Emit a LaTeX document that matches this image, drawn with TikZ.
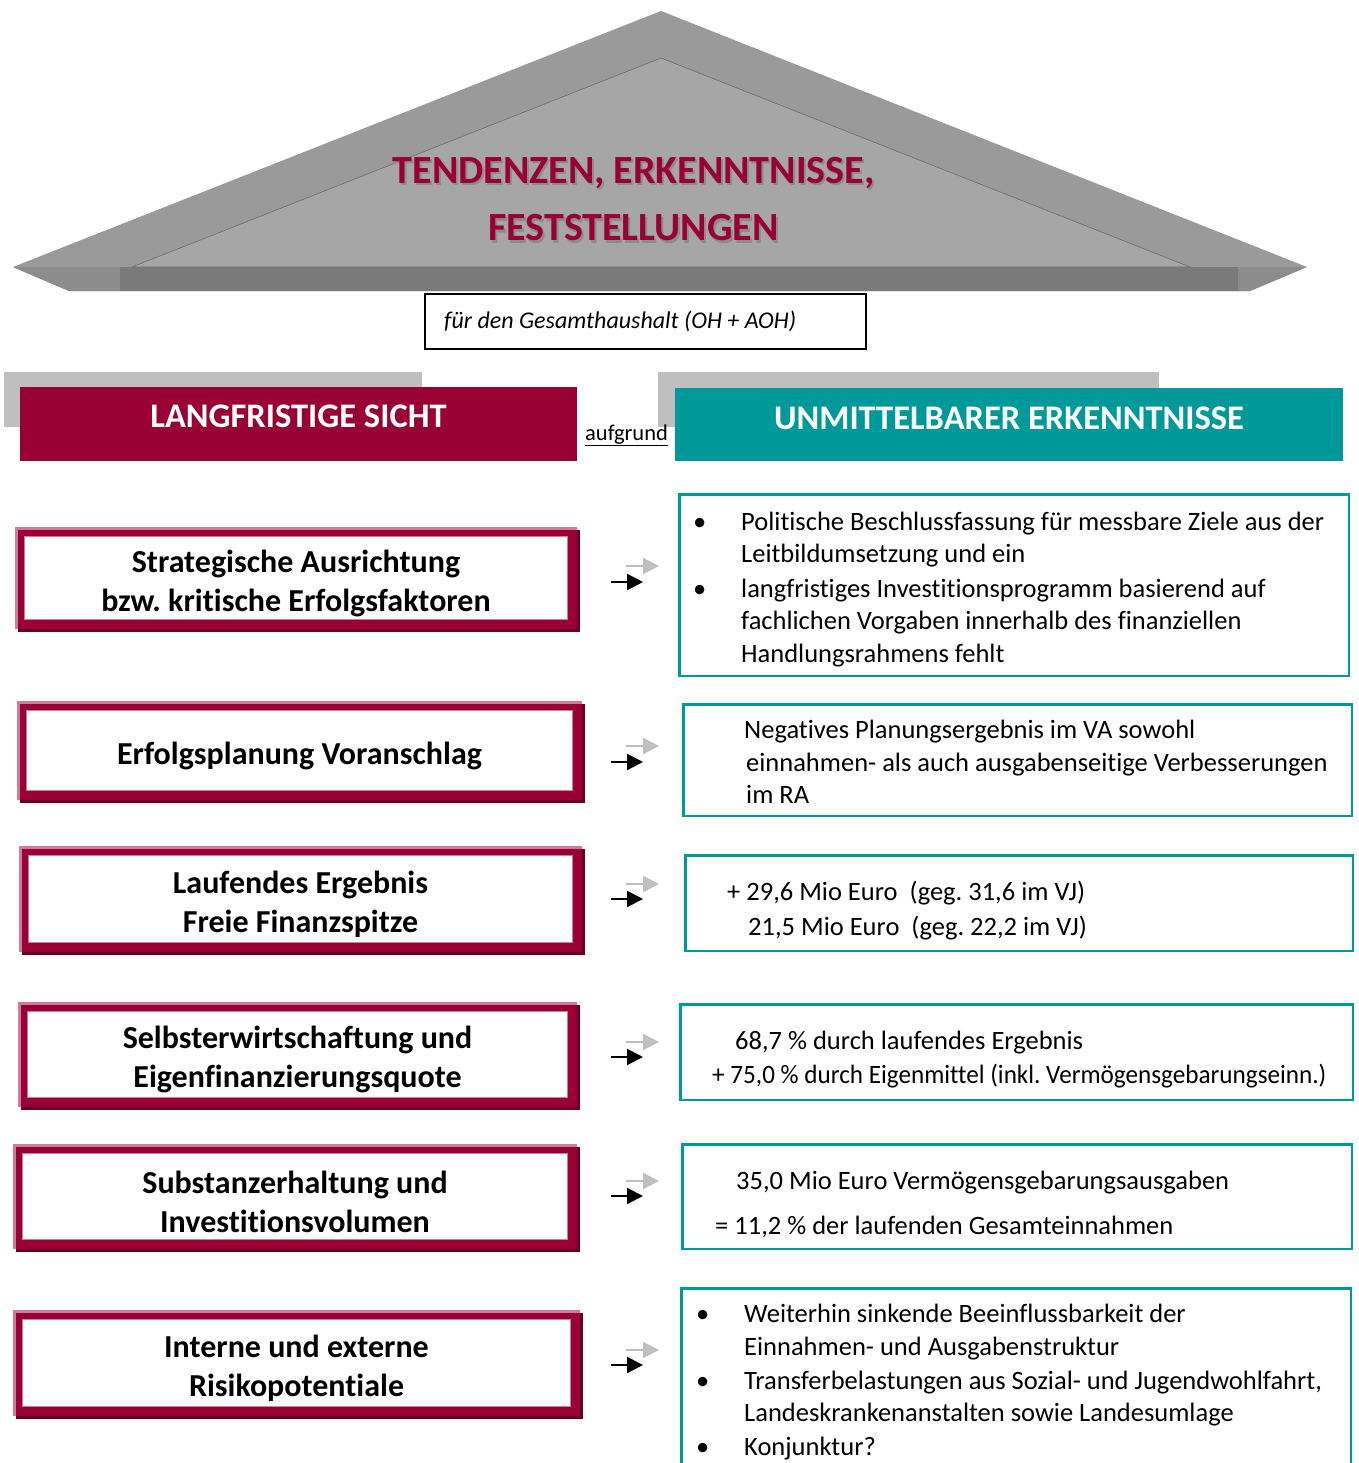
\documentclass[tikz,border=0pt]{standalone}
\usepackage{graphicx}
\usepackage{fontspec}
\setmainfont{Carlito}[Ligatures=NoCommon]
\usetikzlibrary{arrows.meta}
\definecolor{crim}{RGB}{153,0,51}
\definecolor{crimdark}{RGB}{105,0,35}
\definecolor{tealc}{RGB}{0,153,153}
\definecolor{barg}{RGB}{191,191,191}
\definecolor{pinkl}{RGB}{205,125,155}
\definecolor{roofout}{RGB}{154,154,154}
\definecolor{roofin}{RGB}{166,166,166}
\definecolor{roofband}{RGB}{122,122,122}
\definecolor{roofside}{RGB}{140,140,140}
\newcommand\lbx[6]{% name, x1,y1,x2,y2 (incl. shadow), text
  \fill[crimdark] ({#2+3},{#3+3}) rectangle (#4,#5);
  \node[lbox, minimum width={#4-#2-3-9}, minimum height={#5-#3-3-9}] (#1) at ({(#2+#4-3)/2},{(#3+#5-3)/2}) {};
  \draw[pinkl, line width=2.5pt] ([shift={(1.25,0)}]#1.south west) -- ([shift={(1.25,1.25)}]#1.north west) -- ([shift={(0,1.25)}]#1.north east);
  \draw[pinkl, line width=1.2pt] ([shift={(9.6,9.6)}]#1.north west) -| ([shift={(-9.6,-9.6)}]#1.south east) -| cycle;
  \node[ltext] (#1t) at ([yshift=-5pt]#1.center) {#6};
}
\newcommand\rbx[5]{%
  \node[rbox, minimum width={#4-#2-2.5}, minimum height={#5-#3-2.5}] (#1) at ({(#2+#4)/2},{(#3+#5)/2}) {};
}
\newcommand\arr[3]{% name, y gray, y black
  \coordinate (#1gs) at (626,#2); \coordinate (#1ge) at (659,#2);
  \coordinate (#1ks) at (611,#3); \coordinate (#1ke) at (643,#3);
  \draw[harrowg] (#1gs) -- (#1ge);
  \draw[harrowk] (#1ks) -- (#1ke);
}
\newcommand\bul{\llap{\makebox[48pt][l]{•}}}
\frenchspacing
\begin{document}
\begin{tikzpicture}[x=1pt,y=-1pt,
  lbox/.style={draw=crim, line width=9pt, fill=white, inner sep=0pt},
  ltext/.style={inner sep=0pt, align=center, font=\fontsize{32}{39}\selectfont\bfseries},
  rbox/.style={draw=tealc, line width=2.5pt, inner sep=0pt},
  rtext/.style={anchor=base west, inner sep=0pt, font=\fontsize{26.5}{30}\selectfont},
  harrowk/.style={draw=black, line width=2pt, -{Triangle[length=16pt,width=16pt]}},
  harrowg/.style={draw=barg, line width=2pt, -{Triangle[length=16pt,width=16pt]}},
  htext/.style={text=white, inner sep=0pt, font=\fontsize{34.5}{40}\selectfont\bfseries},
  ttext/.style={text=crim, inner sep=0pt, font=\fontsize{40}{46}\selectfont\bfseries},
  tshadow/.style={text=black!45, inner sep=0pt, font=\fontsize{40}{46}\selectfont\bfseries},
]
\useasboundingbox (0,0) rectangle (1358,1463);
\clip (0,0) rectangle (1358,1463);
\fill[white] (0,0) rectangle (1358,1463);
% roof
\fill[roofout] (13,267) -- (661,11) -- (1307,267) -- (1250,291) -- (69,291) -- cycle;
\fill[roofside] (13,267) -- (1307,267) -- (1250,291) -- (69,291) -- cycle;
\fill[roofband] (120,267) rectangle (1238,291);
\fill[roofin, draw=roofout!70!black, line width=0.6pt] (132,267) -- (661,58) -- (1190,267) -- cycle;
\node[tshadow] (ts1) at (635.5,175.5) {TENDENZEN, ERKENNTNISSE,};
\node[tshadow] (ts2) at (635.5,230.5) {FESTSTELLUNGEN};
\node[ttext] (t1) at (633.5,173) {TENDENZEN, ERKENNTNISSE,};
\node[ttext] (t2) at (633.5,228) {FESTSTELLUNGEN};
% subtitle
\node[draw=black, line width=2pt, minimum width=441, minimum height=55, inner sep=0pt] (sub) at (645.5,321.5) {};
\node[anchor=base west, inner sep=0pt, font=\fontsize{24}{28}\selectfont\itshape] (subt) at (444,328) {für den Gesamthaushalt (OH + AOH)};
% headers
\node[fill=barg, minimum width=418, minimum height=55, inner sep=0pt] (gl) at (213,399.5) {};
\node[fill=barg, minimum width=501, minimum height=55, inner sep=0pt] (gr) at (908.5,399.5) {};
\node[fill=crim, minimum width=557, minimum height=74, inner sep=0pt] (hl) at (298.5,424) {};
\node[fill=tealc, minimum width=668, minimum height=73, inner sep=0pt] (hr) at (1009,424.5) {};
\node[htext] (hlt) at (298.5,416) {LANGFRISTIGE SICHT};
\node[htext] (hrt) at (1009,418) {UNMITTELBARER ERKENNTNISSE};
\node[anchor=base west, inner sep=0pt, font=\fontsize{22.5}{26}\selectfont] (auf) at (585,440) {\underline{aufgrund}};
% left boxes
\lbx{l1}{15}{527}{580}{632}{Strategische Ausrichtung\\bzw. kritische Erfolgsfaktoren}
\lbx{l2}{17}{701}{585}{803}{Erfolgsplanung Voranschlag}
\lbx{l3}{19}{846}{585}{955}{Laufendes Ergebnis\\Freie Finanzspitze}
\lbx{l4}{18}{1002}{580}{1110}{Selbsterwirtschaftung und\\Eigenfinanzierungsquote}
\lbx{l5}{13}{1144}{580}{1252}{Substanzerhaltung und\\Investitionsvolumen}
\lbx{l6}{13}{1310}{583}{1419}{Interne und externe\\Risikopotentiale}
% arrows
\arr{a1}{566}{582}
\arr{a2}{746}{762}
\arr{a3}{884}{899}
\arr{a4}{1042}{1057}
\arr{a5}{1181}{1196}
\arr{a6}{1350}{1365}
% right boxes
\rbx{r1}{678}{493}{1350}{677}
\rbx{r2}{682}{703}{1353}{817}
\rbx{r3}{684}{854}{1354}{952}
\rbx{r4}{679}{1003}{1354}{1101}
\rbx{r5}{681}{1143}{1353}{1250}
\rbx{r6}{680}{1287}{1352}{1490}
% right texts
\node[rtext] (r1a) at (741,530) {\bul Politische Beschlussfassung für messbare Ziele aus der};
\node[rtext] (r1b) at (741,562) {Leitbildumsetzung und ein};
\node[rtext] (r1c) at (741,597) {\bul langfristiges Investitionsprogramm basierend auf};
\node[rtext] (r1d) at (741,629) {fachlichen Vorgaben innerhalb des finanziellen};
\node[rtext] (r1e) at (741,662) {Handlungsrahmens fehlt};
\node[rtext] (r2a) at (744,738) {Negatives Planungsergebnis im VA sowohl};
\node[rtext] (r2b) at (746,771) {einnahmen- als auch ausgabenseitige Verbesserungen};
\node[rtext] (r2c) at (746,803) {im RA};
\node[rtext] (r3a) at (727,900) {+ 29,6 Mio Euro\ \ (geg. 31,6 im VJ)};
\node[rtext] (r3b) at (748,935) {21,5 Mio Euro\ \ (geg. 22,2 im VJ)};
\node[rtext] (r4a) at (735,1049) {68,7 \% durch laufendes Ergebnis};
\node[rtext] (r4b) at (712,1083) {\scalebox{0.95}[1]{+ 75,0 \% durch Eigenmittel (inkl. Vermögensgebarungseinn.)}};
\node[rtext] (r5a) at (736,1189) {35,0 Mio Euro Vermögensgebarungsausgaben};
\node[rtext] (r5b) at (715,1234) {= 11,2 \% der laufenden Gesamteinnahmen};
\node[rtext] (r6a) at (744,1322) {\bul Weiterhin sinkende Beeinflussbarkeit der};
\node[rtext] (r6b) at (744,1355) {Einnahmen- und Ausgabenstruktur};
\node[rtext] (r6c) at (744,1389) {\bul Transferbelastungen aus Sozial- und Jugendwohlfahrt,};
\node[rtext] (r6d) at (744,1421) {Landeskrankenanstalten sowie Landesumlage};
\node[rtext] (r6e) at (744,1455) {\bul Konjunktur?};
\end{tikzpicture}
\end{document}
